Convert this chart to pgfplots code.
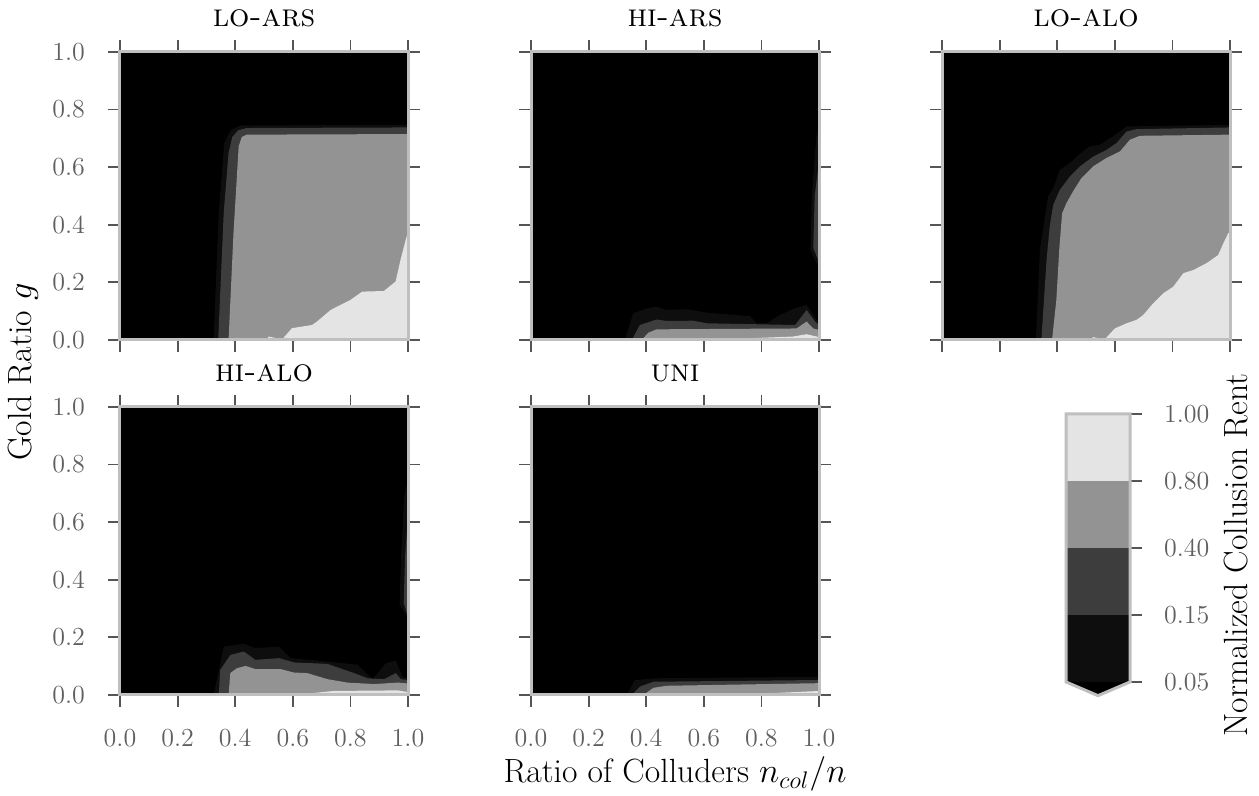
\documentclass[border=0pt]{standalone}
\usepackage{pgfplots}
\pgfplotsset{compat=1.18}
\definecolor{c1}{HTML}{0E0E0E}
\definecolor{c2}{HTML}{3D3D3D}
\definecolor{c3}{HTML}{939393}
\definecolor{c4}{HTML}{E4E4E4}
\definecolor{framec}{HTML}{BFBFBF}
\definecolor{tickc}{HTML}{555555}
\definecolor{labc}{HTML}{5F5F5F}
\newcommand\tickfont{\fontsize{13}{15}\selectfont}
\newcommand\labfont{\fontsize{16.8}{20}\selectfont}
\newcommand\titfont{\fontsize{16}{19}\selectfont}
\pgfplotsset{
 panel/.style={anchor=south west, width=144pt, height=144pt, scale only axis,
   xmin=0,xmax=1,ymin=0,ymax=1, axis on top,
   axis line style={line width=1.5pt, draw=framec},
   tick align=outside, major tick length=6pt,
   tick style={line width=0.9pt, draw=tickc},
   xtick={0,0.2,0.4,0.6,0.8,1}, ytick={0,0.2,0.4,0.6,0.8,1},
   xticklabels={}, yticklabels={},
   tick label style={font=\tickfont, text=labc},
   xticklabel style={yshift=-7.5pt},
   yticklabel style={xshift=-8pt},
   title style={font=\titfont, at={(0.5,1)}, anchor=base, yshift=6.5pt}},
 xl/.style={xticklabels={0.0,0.2,0.4,0.6,0.8,1.0}},
 yl/.style={yticklabels={0.0,0.2,0.4,0.6,0.8,1.0}},
 bg/.style={fill=black, draw=none},
 l1/.style={fill=c1, draw=none},
 l2/.style={fill=c2, draw=none},
 l3/.style={fill=c3, draw=none},
 l4/.style={fill=c4, draw=none},
}
\begin{document}
\begin{tikzpicture}
\useasboundingbox (0,0) rectangle (629.5pt,398pt);
% ---------------- LO-ARS
\begin{axis}[panel, yl, at={(60pt,228pt)}, title={\textsc{lo-ars}}]
\addplot[bg] coordinates {(0,0)(1,0)(1,1)(0,1)} -- cycle;
\addplot[l1] coordinates {(0.325,0)(0.343,0.44)(0.362,0.684)(0.385,0.73)(0.42,0.745)(1,0.747)(1,0)} -- cycle;
\addplot[l2] coordinates {(0.341,0)(0.36,0.44)(0.377,0.65)(0.39,0.705)(0.41,0.728)(0.44,0.736)(1,0.738)(1,0)} -- cycle;
\addplot[l3] coordinates {(0.377,0)(0.394,0.37)(0.412,0.672)(0.423,0.705)(0.44,0.713)(1,0.715)(1,0)} -- cycle;
\addplot[l4] coordinates {(0.51,0)(0.516,0.012)(0.563,0.002)(0.597,0.041)(0.667,0.052)(0.684,0.064)(0.731,0.104)(0.766,0.122)(0.80,0.139)(0.841,0.168)(0.916,0.17)(0.957,0.203)(0.974,0.278)(0.995,0.359)(1,0.37)(1,0)} -- cycle;
\end{axis}
% ---------------- HI-ARS
\begin{axis}[panel, at={(265.5pt,228pt)}, title={\textsc{hi-ars}}]
\addplot[bg] coordinates {(0,0)(1,0)(1,1)(0,1)} -- cycle;
\addplot[l1] coordinates {(0.326,0)(0.355,0.093)(0.403,0.11)(0.436,0.116)(0.471,0.104)(0.54,0.107)(0.61,0.095)(0.68,0.089)(0.76,0.083)(0.784,0.058)(0.823,0.06)(0.853,0.081)(0.91,0.108)(0.957,0.122)(0.992,0.069)(1,0.06)(1,0)} -- cycle;
\addplot[l1] coordinates {(1,0.74)(0.99,0.70)(0.975,0.5)(0.97,0.31)(0.985,0.28)(1,0.25)} -- cycle;
\addplot[l2] coordinates {(1,0.62)(0.985,0.5)(0.98,0.32)(1,0.27)} -- cycle;
\addplot[l2] coordinates {(0.35,0)(0.378,0.052)(0.436,0.071)(0.471,0.066)(0.564,0.067)(0.61,0.058)(0.917,0.052)(0.957,0.104)(0.986,0.064)(1,0.052)(1,0)} -- cycle;
\addplot[l3] coordinates {(0.384,0)(0.407,0.025)(0.436,0.037)(0.922,0.04)(0.957,0.064)(0.98,0.04)(1,0.035)(1,0)} -- cycle;
\addplot[l4] coordinates {(0.6,0)(0.91,0.012)(0.957,0.02)(1,0.01)(1,0)} -- cycle;
\end{axis}
% ---------------- LO-ALO
\begin{axis}[panel, at={(471pt,228pt)}, title={\textsc{lo-alo}}]
\addplot[bg] coordinates {(0,0)(1,0)(1,1)(0,1)} -- cycle;
\addplot[l1] coordinates {(0.326,0)(0.34,0.313)(0.368,0.498)(0.386,0.527)(0.409,0.591)(0.444,0.614)(0.467,0.637)(0.513,0.672)(0.548,0.678)(0.594,0.707)(0.641,0.742)(0.675,0.742)(1,0.747)(1,0)} -- cycle;
\addplot[l2] coordinates {(0.345,0)(0.363,0.278)(0.374,0.394)(0.386,0.469)(0.409,0.521)(0.444,0.568)(0.479,0.603)(0.525,0.637)(0.571,0.66)(0.606,0.684)(0.641,0.724)(0.675,0.732)(1,0.738)(1,0)} -- cycle;
\addplot[l3] coordinates {(0.382,0)(0.397,0.139)(0.407,0.313)(0.417,0.44)(0.432,0.475)(0.455,0.516)(0.484,0.562)(0.525,0.603)(0.571,0.632)(0.618,0.655)(0.652,0.695)(0.687,0.709)(1,0.713)(1,0)} -- cycle;
\addplot[l4] coordinates {(0.513,0)(0.525,0.01)(0.565,0.002)(0.6,0.04)(0.641,0.058)(0.676,0.07)(0.699,0.087)(0.733,0.127)(0.768,0.162)(0.803,0.185)(0.838,0.232)(0.873,0.243)(0.919,0.267)(0.959,0.295)(0.977,0.336)(0.994,0.371)(1,0.375)(1,0)} -- cycle;
\end{axis}
% ---------------- HI-ALO
\begin{axis}[panel, xl, yl, at={(60pt,50.5pt)}, title={\textsc{hi-alo}}]
\addplot[bg] coordinates {(0,0)(1,0)(1,1)(0,1)} -- cycle;
\addplot[l1] coordinates {(0.325,0)(0.36,0.168)(0.43,0.178)(0.47,0.163)(0.552,0.168)(0.592,0.128)(0.72,0.116)(0.825,0.105)(0.877,0.055)(0.923,0.11)(0.958,0.12)(0.98,0.064)(1,0.058)(1,0)} -- cycle;
\addplot[l1] coordinates {(1,0.749)(0.987,0.69)(0.976,0.482)(0.971,0.314)(1,0.267)} -- cycle;
\addplot[l2] coordinates {(1,0.621)(0.99,0.482)(0.985,0.32)(1,0.27)} -- cycle;
\addplot[l2] coordinates {(0.343,0)(0.348,0.087)(0.383,0.139)(0.43,0.151)(0.47,0.122)(0.552,0.128)(0.604,0.113)(0.72,0.108)(0.813,0.076)(0.86,0.058)(0.917,0.055)(0.958,0.076)(0.975,0.055)(1,0.052)(1,0)} -- cycle;
\addplot[l3] coordinates {(0.377,0)(0.383,0.076)(0.406,0.093)(0.436,0.101)(0.47,0.09)(0.557,0.09)(0.604,0.078)(0.65,0.076)(0.72,0.055)(0.79,0.043)(0.883,0.038)(0.965,0.043)(1,0.04)(1,0)} -- cycle;
\addplot[l4] coordinates {(0.604,0)(0.742,0.014)(0.965,0.016)(1,0.01)(1,0)} -- cycle;
\end{axis}
% ---------------- UNI
\begin{axis}[panel, xl, at={(265.5pt,50.5pt)}, title={\textsc{uni}}]
\addplot[bg] coordinates {(0,0)(1,0)(1,1)(0,1)} -- cycle;
\addplot[l1] coordinates {(0.332,0)(0.361,0.052)(0.436,0.058)(0.992,0.063)(1,0.066)(1,0)} -- cycle;
\addplot[l2] coordinates {(0.35,0)(0.378,0.029)(0.425,0.046)(1,0.052)(1,0)} -- cycle;
\addplot[l3] coordinates {(0.39,0)(0.425,0.025)(0.471,0.032)(1,0.041)(1,0)} -- cycle;
\addplot[l4] coordinates {(0.70,0)(1,0.014)(1,0)} -- cycle;
\end{axis}
% ---------------- colorbar
\begin{axis}[anchor=south west, at={(533pt,57pt)}, width=32pt, height=134pt, scale only axis,
  xmin=0,xmax=1,ymin=0,ymax=4, clip=false, axis line style={draw=none},
  xtick=\empty, ytick={0,1,2,3,4}, yticklabels={0.05,0.15,0.40,0.80,1.00},
  ytick pos=right, yticklabel pos=right, tick align=outside, major tick length=6pt,
  tick style={line width=0.9pt, draw=tickc},
  tick label style={font=\tickfont, text=labc},
  yticklabel style={xshift=7.5pt}]
\addplot[l1] coordinates {(0,0)(1,0)(1,1)(0,1)} -- cycle;
\addplot[l2] coordinates {(0,1)(1,1)(1,2)(0,2)} -- cycle;
\addplot[l3] coordinates {(0,2)(1,2)(1,3)(0,3)} -- cycle;
\addplot[l4] coordinates {(0,3)(1,3)(1,4)(0,4)} -- cycle;
\addplot[bg] coordinates {(0,0)(0.5,-0.204)(1,0)} -- cycle;
\addplot[draw=framec, line width=1.5pt] coordinates {(0,0)(0,4)(1,4)(1,0)(0.5,-0.204)} -- cycle;
\end{axis}
\node[rotate=90, font=\labfont] at (11.5pt,212pt) {Gold Ratio $g$};
\node[anchor=base, font=\labfont] at (337.5pt,6.5pt) {Ratio of Colluders $n_{col}/n$};
\node[rotate=90, font=\labfont] at (618pt,120.5pt) {Normalized Collusion Rent};
\end{tikzpicture}
\end{document}
